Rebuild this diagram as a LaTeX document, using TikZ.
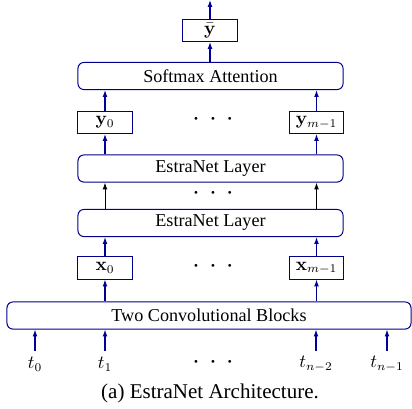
\documentclass[tikz,border=0pt]{standalone}
\usepackage{amsmath}
\usepackage[no-math]{fontspec}
\setmainfont{Liberation Serif}
\usetikzlibrary{positioning,arrows.meta}
\newcommand{\gapdots}{$\boldsymbol{\cdot}\hspace{4pt}\boldsymbol{\cdot}\hspace{4pt}\boldsymbol{\cdot}$}

\begin{document}
\begin{tikzpicture}[
  x=0.59pt, y=-0.59pt,
  font=\fontsize{10.7}{12.5}\selectfont,
  block/.style={draw=blue!55!black, rounded corners=3.5pt, line width=0.6pt,
                minimum height=16pt, inner sep=1pt},
  vec/.style={draw=blue!55!black, line width=0.6pt, minimum width=32pt,
              minimum height=13pt, inner sep=1pt},
  flow/.style={-{Latex[length=4pt,width=2.8pt]}, line width=0.6pt, blue!60!black},
  pass/.style={-{Latex[length=4pt,width=2.8pt]}, line width=0.5pt, black},
]
  \useasboundingbox (0,0) rectangle (412,408);

  % input samples and embedding
  \node[block, minimum width=238.4pt] (conv) at (209,315.5) {Two Convolutional Blocks};
  \node (t0) at (35,364) {$t_0$};
  \node (t1) at (105,364) {$t_1$};
  \node (tdots) at (213,362) {\gapdots};
  \node (tn2) at (316,364) {$t_{n-2}$};
  \node (tn1) at (387,364) {$t_{n-1}$};

  \node[vec] (x0) at (105,268) {$\mathbf{x}_0$};
  \node[vec] (xm) at (316.5,268) {$\mathbf{x}_{m-1}$};
  \node (xdots) at (213,266) {\gapdots};

  % stacked layers
  \node[block, minimum width=156.4pt] (layer1) at (210.5,223) {EstraNet Layer};
  \node (ldots) at (213,193) {\gapdots};
  \node[block, minimum width=156.4pt] (layerL) at (210.5,168.5) {EstraNet Layer};

  \node[vec] (y0) at (105,122.5) {$\mathbf{y}_0$};
  \node[vec] (ym) at (316.5,122.5) {$\mathbf{y}_{m-1}$};
  \node (ydots) at (213,119) {\gapdots};

  \node[block, minimum width=156.4pt] (attn) at (210.5,76) {Softmax Attention};
  \node[vec] (ybar) at (210,30.5) {$\bar{\mathbf{y}}$};
  \coordinate (out) at (210,0);

  % connectors
  \draw[flow] (t0.north |- 0,351) -- (t0.north |- conv.south);
  \draw[flow] (t1.north |- 0,351) -- (t1.north |- conv.south);
  \draw[flow] (tn2.north |- 0,351) -- (tn2.north |- conv.south);
  \draw[flow] (tn1.north |- 0,351) -- (tn1.north |- conv.south);
  \draw[flow] (x0 |- conv.north) -- (x0.south);
  \draw[flow] (xm |- conv.north) -- (xm.south);
  \draw[flow] (x0.north) -- (x0 |- layer1.south);
  \draw[flow] (xm.north) -- (xm |- layer1.south);
  \draw[pass] (x0 |- layer1.north) -- (x0 |- layerL.south);
  \draw[pass] (xm |- layer1.north) -- (xm |- layerL.south);
  \draw[flow] (y0 |- layerL.north) -- (y0.south);
  \draw[flow] (ym |- layerL.north) -- (ym.south);
  \draw[flow] (y0.north) -- (y0 |- attn.south);
  \draw[flow] (ym.north) -- (ym |- attn.south);
  \draw[flow] (ybar |- attn.north) -- (ybar.south);
  \draw[flow] (ybar.north) -- (out);

  \node[font=\fontsize{12.4}{14}\selectfont] (caption) at (210,393) {(a) EstraNet Architecture.};
\end{tikzpicture}
\end{document}
